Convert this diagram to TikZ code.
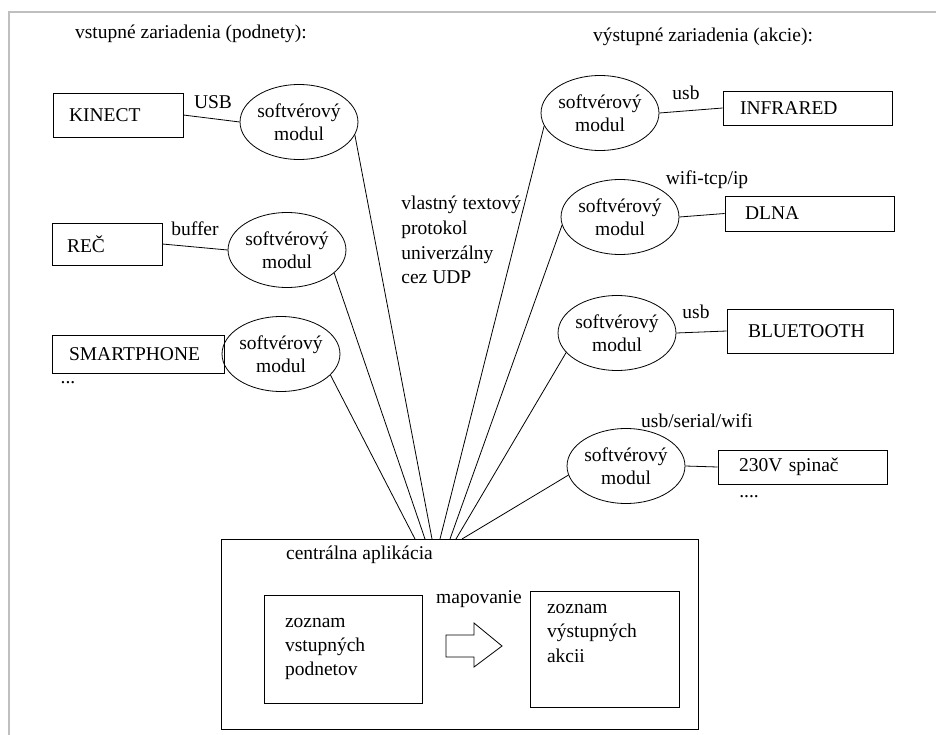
\documentclass[tikz,border=0pt]{standalone}
\usepackage{fontspec}
\setmainfont{Liberation Serif}
\usetikzlibrary{shapes.geometric}
\begin{document}
\begin{tikzpicture}[x=1pt,y=-1pt,line width=0.8pt,
  every node/.style={font=\fontsize{19.5}{23}\selectfont,inner sep=0pt},
  modul/.style={draw,ellipse,minimum width=115pt,minimum height=75pt,align=center},
  devbox/.style={draw,rectangle,align=left},
  listbox/.style={draw,rectangle,align=left,font=\fontsize{19.5}{24}\selectfont},
  frameline/.style={draw=black!25,line width=2pt}]
\useasboundingbox (0,0) rectangle (936,735);
% gray frame
\draw[frameline] (9,735) -- (9,12) -- (936,12);
% headings
\node (hin) at (191,34) {vstupné zariadenia (podnety):};
\node (hout) at (703,37) {výstupné zariadenia (akcie):};
% input devices
\node[devbox,text width=98pt,inner xsep=16pt,minimum height=44pt] (kin) at (118,115) {KINECT};
\node[devbox,text width=80pt,inner xsep=15pt,minimum height=42pt] (rec) at (107,244) {REČ};
\node[devbox,text width=138pt,inner xsep=17pt,minimum height=38pt] (sma) at (138,354) {SMARTPHONE};
\node (dots1) at (68,383) {...};
% input modules
\node[modul] (m1) at (299,122) {softvérový\\modul};
\node[modul] (m2) at (287,250) {softvérový\\modul};
\node[modul] (m3) at (281,354) {softvérový\\modul};
% output modules
\node[modul] (m4) at (600,113) {softvérový\\modul};
\node[modul] (m5) at (620,217) {softvérový\\modul};
\node[modul] (m6) at (617,333) {softvérový\\modul};
\node[modul] (m7) at (626,466) {softvérový\\modul};
% output devices
\node[devbox,text width=135pt,inner xsep=17pt,minimum height=34pt] (inf) at (807.5,108) {INFRARED};
\node[devbox,text width=129pt,inner xsep=20pt,minimum height=35pt] (dln) at (809.5,213.5) {DLNA};
\node[devbox,text width=124pt,inner xsep=21pt,minimum height=44pt] (blu) at (810,331) {BLUETOOTH};
\node[devbox,text width=127pt,inner xsep=21pt,minimum height=34pt] (sw) at (802.5,467) {230V spinač};
\node (dots2) at (749,497) {....};
% connection labels
\node (lusb) at (213,102) {USB};
\node (lbuf) at (195,229) {buffer};
\node (lusb2) at (686,93) {usb};
\node (lwifi) at (707,180) {wifi-tcp/ip};
\node (lusb3) at (696,312) {usb};
\node (lser) at (697,421) {usb/serial/wifi};
% protocol text
\node[anchor=west,align=left,font=\fontsize{19.5}{24.7}\selectfont] (prot) at (401,240)
  {vlastný textový\\protokol\\univerzálny\\cez UDP};
% device connectors
\draw (kin.east) -- (m1.west);
\draw (rec.east) -- (m2.west);
\draw (m4.east) -- (inf.west);
\draw (m5.east) -- (dln.west);
\draw (m6.east) -- (blu.west);
\draw (m7.east) -- (sw.west);
% central application
\node[draw,rectangle,minimum width=477pt,minimum height=190pt] (app) at (459.5,634) {};
\node (apptitle) at (359.5,555) {centrálna aplikácia};
\node[listbox,text width=116pt,inner xsep=21pt,minimum height=108pt] (lin) at (343,649)
  {zoznam\\vstupných\\podnetov};
\node[listbox,text width=115pt,inner xsep=17pt,minimum height=116pt] (lout) at (604.5,649)
  {zoznam\\výstupných\\akcii\\\strut};
\node (map) at (479,599) {mapovanie};
\draw (446,635) -- (474,635) -- (474,623) -- (502,646) -- (474,667) -- (474,657) -- (446,657) -- cycle;
% fan connectors
\coordinate (p1) at (415,539);
\coordinate (p2) at (425,539);
\coordinate (p3) at (432,539);
\coordinate (p4) at (440,539);
\coordinate (p5) at (450,539);
\coordinate (p6) at (456,539);
\coordinate (p7) at (462,539);
\draw (m1.-13) -- (p3);
\draw (m2.-26) -- (p2);
\draw (m3.-23) -- (p1);
\draw (m4.193) -- (p4);
\draw (m5.188) -- (p5);
\draw (m6.201) -- (p6);
\draw (m7.189) -- (p7);
\end{tikzpicture}
\end{document}
